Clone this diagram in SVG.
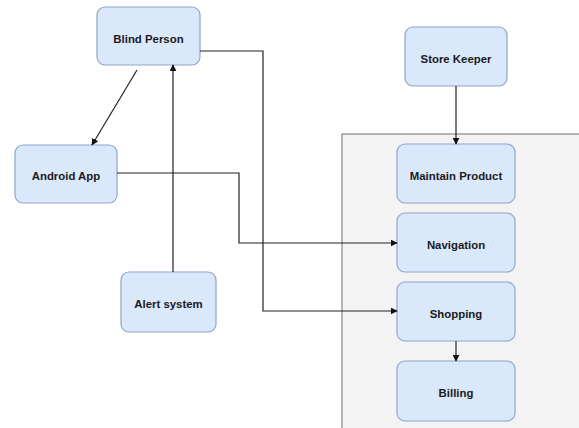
<svg xmlns="http://www.w3.org/2000/svg" width="579" height="428" viewBox="0 0 579 428">
<style>
.n rect{fill:#dae8fc;stroke:#8ea6c8;stroke-width:1.2}
.n text{font-family:"Liberation Sans",Arial,sans-serif;font-size:11.4px;font-weight:bold;fill:#1a1a1a;text-anchor:middle;dominant-baseline:central}
.c path{fill:none;stroke:#222;stroke-width:1.2}
</style>
<defs>
<marker id="a" viewBox="0 0 10 10" refX="9" refY="5" markerWidth="7" markerHeight="7" orient="auto" markerUnits="userSpaceOnUse">
<path d="M0,0 L10,5 L0,10 Z" fill="#111"/>
</marker>
</defs>
<rect id="container" x="342" y="134" width="240" height="300" fill="#f3f3f3" stroke="#888" stroke-width="1.2"/>
<g id="blind" class="n"><rect x="97" y="7" width="103" height="58" rx="8"/><text x="148.5" y="39">Blind Person</text></g>
<g id="android" class="n"><rect x="15" y="145" width="102" height="58" rx="8"/><text x="66" y="176">Android App</text></g>
<g id="store" class="n"><rect x="405" y="27" width="102" height="59" rx="8"/><text x="456" y="59">Store Keeper</text></g>
<g id="maintain" class="n"><rect x="397" y="144" width="118" height="59" rx="8"/><text x="456" y="176">Maintain Product</text></g>
<g id="navigation" class="n"><rect x="397" y="213" width="118" height="59" rx="8"/><text x="456" y="245">Navigation</text></g>
<g id="shopping" class="n"><rect x="397" y="282" width="118" height="59" rx="8"/><text x="456" y="314">Shopping</text></g>
<g id="billing" class="n"><rect x="397" y="361" width="118" height="60" rx="8"/><text x="456" y="393">Billing</text></g>
<g id="alert" class="n"><rect x="121" y="272" width="95" height="60" rx="8"/><text x="168.5" y="304">Alert system</text></g>
<g id="connectors" class="c">
<path d="M137,70 L92,145" marker-end="url(#a)"/>
<path d="M173,272 L173,65" marker-end="url(#a)"/>
<path d="M200,51 L263,51 L263,311 L397,311" marker-end="url(#a)"/>
<path d="M117,173 L239,173 L239,243 L397,243" marker-end="url(#a)"/>
<path d="M456,86 L456,144" marker-end="url(#a)"/>
<path d="M456,341 L456,361" marker-end="url(#a)"/>
</g>
</svg>
